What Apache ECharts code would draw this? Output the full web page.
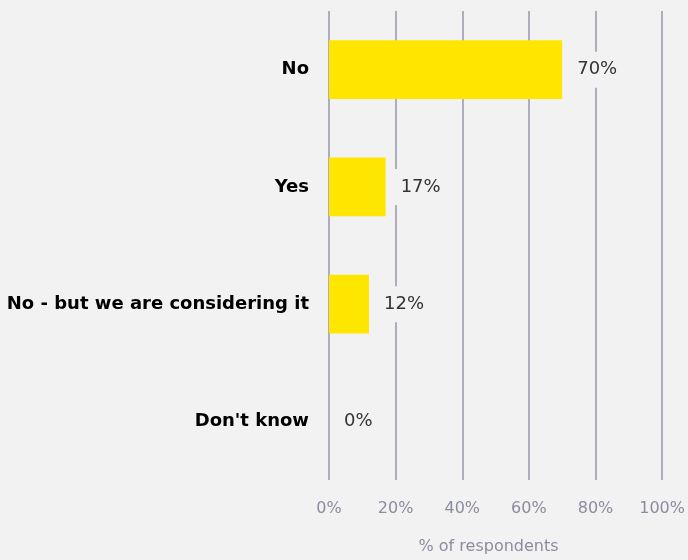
<!DOCTYPE html>
<html><head><meta charset="utf-8">
<script src="https://cdn.jsdelivr.net/npm/echarts@6/dist/echarts.min.js"></script>
<style>html,body{margin:0;padding:0;background:#f2f2f2;}#c{width:688px;height:560px;}</style>
</head><body><div id="c"></div>
<script>
const categories = ["No", "Yes", "No - but we are considering it", "Don't know"];
const values = [70, 17, 12, 0];
const xTicks = [0, 20, 40, 60, 80, 100];
const axisName = "% of respondents";

const chart = echarts.init(document.getElementById('c'));
chart.setOption({
  backgroundColor: '#f2f2f2',
  animation: false,
  grid: {left: 329, right: 24, top: 11, bottom: 73, containLabel: false},
  xAxis: {
    type: 'value', min: xTicks[0], max: xTicks[xTicks.length - 1], interval: 20,
    name: axisName, nameLocation: 'middle', nameGap: 59,
    nameTextStyle: {color: '#8c8ca0', fontSize: 16, fontFamily: 'DejaVu Sans', padding: [0, 14, 0, 0]},
    axisLine: {show: false}, axisTick: {show: false},
    axisLabel: {color: '#8c8ca0', fontSize: 16, fontFamily: 'DejaVu Sans', margin: 21, formatter: v => v + '%'},
    splitLine: {show: true, lineStyle: {color: '#adadbd', width: 2}}
  },
  yAxis: {
    type: 'category', data: categories, inverse: true,
    axisLine: {show: false}, axisTick: {show: false},
    axisLabel: {color: '#000', fontSize: 18, fontWeight: 'bold', fontFamily: 'DejaVu Sans', margin: 20},
    splitLine: {show: false}
  },
  series: [{
    type: 'bar', data: values, barWidth: '50%',
    itemStyle: {color: '#ffe600'},
    label: {
      show: true, position: 'right', distance: 5,
      formatter: p => p.value + '%',
      color: '#333333', fontSize: 18, fontFamily: 'DejaVu Sans',
      backgroundColor: '#f2f2f2', padding: [9, 10]
    }
  }]
});
</script></body></html>
